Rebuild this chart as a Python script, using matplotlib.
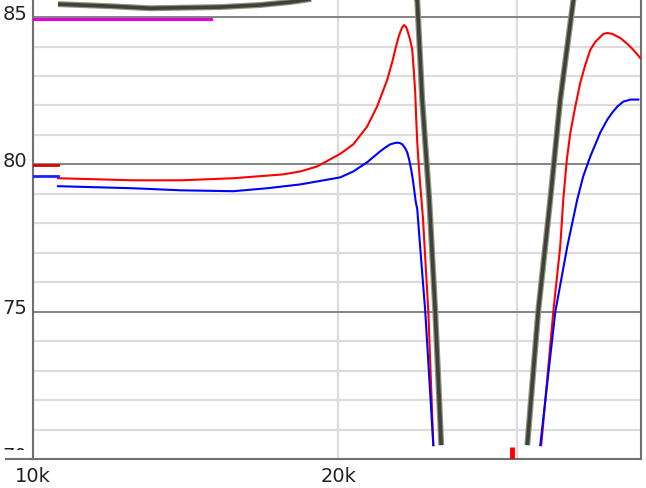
import numpy as np
import matplotlib
matplotlib.use("Agg")
import matplotlib.pyplot as plt
from matplotlib.ticker import FixedLocator, NullFormatter
from matplotlib.transforms import Bbox, TransformedBbox, ScaledTranslation

# ---- data (freq in Hz, level in dB) ----
red_f = [10585, 12550, 14000, 15760, 17650, 18350, 19070, 19640, 20100, 20700,
         21360, 21850, 22360, 22620, 22770, 22930, 23030, 23140, 23240, 23350,
         23450, 23560, 23670, 23750, 23830, 23880, 23940, 24020, 24100, 24250,
         24550, 24830, np.nan,
         31730, 32610, 33130, 33360, 33630, 33900, 34280, 34670, 35070, 35470,
         35880, 36540, 36870, 37290, 37970, 38590, 39110, 39740]
red_db = [79.53, 79.46, 79.46, 79.53, 79.66, 79.76, 79.93, 80.17, 80.36, 80.68,
          81.28, 81.96, 82.87, 83.48, 83.89, 84.29, 84.49, 84.66, 84.73, 84.66,
          84.46, 84.22, 83.89, 83.21, 82.43, 81.59, 80.74, 80.00, 79.32, 78.20,
          75.00, 70.47, np.nan,
          70.47, 75.00, 77.23, 78.82, 80.17, 81.08, 81.96, 82.77, 83.38, 83.89,
          84.16, 84.43, 84.46, 84.43, 84.29, 84.09, 83.89, 83.61]

blue_f = [10585, 12550, 14000, 15760, 17020, 18350, 20100, 20700, 21360, 22000,
          22260, 22510, 22720, 22880, 23030, 23140, 23300, 23400, 23500, 23610,
          23700, 23770, 23860, 23940, 24150, 24380, 24830, np.nan,
          31660, 32760, 33670, 34440, 34900, 35470, 35880, 36280, 36870, 37290,
          37710, 38230, 38850, 39560]
blue_db = [79.26, 79.19, 79.12, 79.09, 79.19, 79.32, 79.56, 79.76, 80.07, 80.44,
           80.57, 80.68, 80.72, 80.74, 80.72, 80.68, 80.54, 80.41, 80.17, 79.83,
           79.49, 79.16, 78.72, 78.48, 76.79, 75.00, 70.47, np.nan,
           70.47, 75.00, 77.23, 78.82, 79.59, 80.27, 80.68, 81.08, 81.52, 81.76,
           81.96, 82.13, 82.20, 82.20]

gray_f = [10585, 11910, 13050, 15300, 16750, 17930, 18770, 20500, 22500, 23940,
          24210, 24600, 24940, 25280, np.nan,
          30740, 31510, 32390, 33130, 34130, 35500]
gray_db = [85.44, 85.37, 85.30, 85.34, 85.41, 85.51, 85.61, 86.40, 86.80, 85.57,
           82.20, 78.82, 75.00, 70.47, np.nan,
           70.47, 75.00, 78.82, 82.20, 85.57, 88.00]

# short reference markers
magenta_f = [10000, 15000]
magenta_db = [84.95, 84.95]
red_mark_f = [10000, 10585]
red_mark_db = [79.97, 79.97]
blue_mark_f = [10000, 10585]
blue_mark_db = [79.59, 79.59]
red_bar_f = [29700, 29700]
red_bar_db = [70.0, 70.4]

x_ticks = [10000, 20000, 30000]
x_labels = ['10k', '20k', '']
y_major = [70, 75, 80, 85]
y_minor = [71, 72, 73, 74, 76, 77, 78, 79, 81, 82, 83, 84]

# ---- figure ----
W, H = 646, 488
fig = plt.figure(figsize=(W / 100, H / 100), dpi=100)
ax = fig.add_axes([33 / W, (H - 459) / H, 608 / W, 459 / H])

light = '#dcdcdc'
dark = '#707070'
txt = '#222222'

ax.set_xscale('log')
ax.set_xlim(10000, 39800)
ax.set_ylim(70, 85.58)

ax.xaxis.set_major_locator(FixedLocator(x_ticks))
ax.xaxis.set_minor_locator(FixedLocator([]))
ax.xaxis.set_minor_formatter(NullFormatter())
ax.set_xticks(x_ticks, labels=x_labels)
ax.set_yticks(y_major, labels=[])
ax.set_yticks(y_minor, minor=True)

ax.tick_params(axis='both', which='both', length=0)
ax.tick_params(axis='x', pad=6, labelsize=14, labelcolor=txt)

ax.set_axisbelow(True)
ax.grid(True, axis='x', which='major', color=light, lw=1.6)
ax.grid(True, axis='y', which='minor', color=light, lw=1.6)
ax.grid(True, axis='y', which='major', color=dark, lw=1.2)

for s in ['left', 'bottom', 'right']:
    ax.spines[s].set_color(dark)
    ax.spines[s].set_linewidth(1.5)
ax.spines['top'].set_visible(False)

# bottom line runs a little past the left axis
ax.plot([-0.044, 0], [0, 0], transform=ax.transAxes, clip_on=False,
        color=dark, lw=1.5, zorder=3)

# y labels as text so the bottom one can be cut like the reference
off = ScaledTranslation(-6 / 100, 3 / 100, fig.dpi_scale_trans)
clip = TransformedBbox(Bbox([[0, (H - 450) / H], [1, 1]]), fig.transFigure)
for v in y_major:
    t = ax.text(0, v, str(v), transform=ax.get_yaxis_transform() + off,
                ha='right', va='center', fontsize=14, color=txt, clip_on=False)
    if v == 70:
        t.set_clip_box(clip)
        t.set_clip_on(True)

# ---- curves ----
ax.plot(gray_f, gray_db, color='#8e9874', lw=4.3, solid_capstyle='butt', zorder=2)
ax.plot(gray_f, gray_db, color='#404040', lw=2.6, solid_capstyle='butt', zorder=2.1)
ax.plot(red_f, red_db, color='#ff0000', lw=1.5, zorder=3)
ax.plot(blue_f, blue_db, color='#0000ff', lw=1.5, zorder=3)

ax.plot(magenta_f, magenta_db, color='#e000e0', lw=2.2, zorder=3)
ax.plot(red_mark_f, red_mark_db, color='#e00000', lw=2.0, zorder=3)
ax.plot(blue_mark_f, blue_mark_db, color='#2020ff', lw=2.0, zorder=3)
ax.plot(red_bar_f, red_bar_db, color='#ff0000', lw=3.5, solid_capstyle='butt', zorder=3)

fig.savefig('out.png', dpi=100)
